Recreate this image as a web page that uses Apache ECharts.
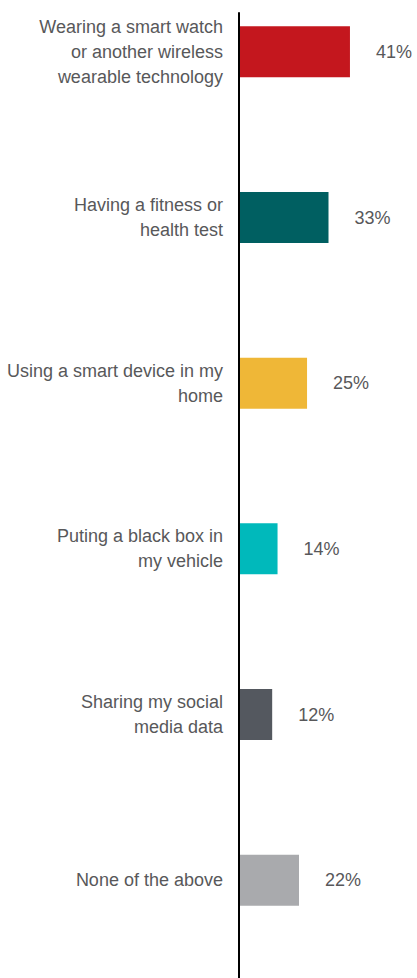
<!DOCTYPE html>
<html>
<head>
<meta charset="utf-8">
<style>
  html, body { margin: 0; padding: 0; background: #fff; }
  #chart { width: 417px; height: 978px; }
</style>
<script src="https://cdn.jsdelivr.net/npm/echarts@6/dist/echarts.min.js"></script>
</head>
<body>
<div id="chart"></div>
<script>
// Share of respondents willing to do each activity.
const categories = [
  'Wearing a smart watch\nor another wireless\nwearable technology',
  'Having a fitness or\nhealth test',
  'Using a smart device in my\nhome',
  'Puting a black box in\nmy vehicle',
  'Sharing my social\nmedia data',
  'None of the above',
];
const values = [41, 33, 25, 14, 12, 22];
const barColors = ['#C4171E', '#005F61', '#EFB737', '#00B9BB', '#54585F', '#A9AAAD'];

const FONT = '"Liberation Sans", Arial, sans-serif';
const INK = '#58585A';

const c = echarts.init(document.getElementById('chart'), null, { renderer: 'svg' });
c.setOption({
  animation: false,
  textStyle: { fontFamily: FONT, color: INK },
  grid: [
    { left: 240, right: 0, top: -31, bottom: 15, outerBoundsMode: 'none', containLabel: false },
    // second grid only carries the long vertical baseline
    { left: 239, width: 10, top: 13, bottom: 0, outerBoundsMode: 'none', containLabel: false },
  ],
  xAxis: [
    { type: 'value', min: 0, max: 66, show: false },
    { type: 'value', gridIndex: 1, show: false },
  ],
  yAxis: [
    {
      type: 'category', data: categories, inverse: true,
      axisLine: { show: false }, axisTick: { show: false },
      axisLabel: {
        color: INK, fontFamily: FONT, fontSize: 18, lineHeight: 25,
        margin: 17, align: 'right',
      },
    },
    {
      type: 'category', gridIndex: 1, data: [''],
      axisLine: { show: true, lineStyle: { color: '#000', width: 2 } },
      axisTick: { show: false }, axisLabel: { show: false },
    },
  ],
  series: [{
    type: 'bar',
    data: values.map((v, i) => ({ value: v, itemStyle: { color: barColors[i] } })),
    barWidth: 51,
    label: {
      show: true, position: 'right', distance: 26,
      formatter: '{c}%', color: INK, fontFamily: FONT, fontSize: 18,
    },
  }],
});
</script>
</body>
</html>
